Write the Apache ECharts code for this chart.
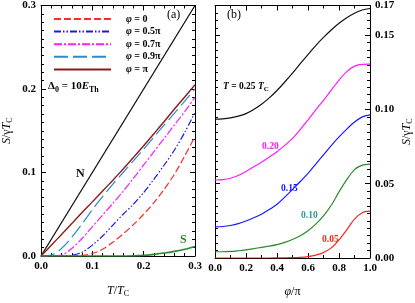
<!DOCTYPE html>
<html><head><meta charset="utf-8">
<script src="https://cdn.jsdelivr.net/npm/echarts@6/dist/echarts.min.js"></script>
<style>html,body{margin:0;padding:0;background:#fff}#c{width:415px;height:303px}</style>
</head><body><div id="c"></div>
<script>
// ---- Panel (a) data: S/γT_C vs T/T_C ----
const tGrid = [0,0.02,0.04,0.06,0.08,0.10,0.12,0.14,0.16,0.18,0.20,0.22,0.24,0.26,0.28,0.30];
const aPhi0  = [0,0,0,0,0.0008,0.003,0.008,0.0165,0.0265,0.0375,0.050,0.064,0.080,0.098,0.120,0.143];
const aPhi05 = [0,0,0,0.0007,0.0045,0.013,0.024,0.037,0.050,0.062,0.076,0.092,0.109,0.127,0.148,0.172];
const aPhi07 = [0,0,0.001,0.009,0.021,0.035,0.049,0.063,0.0775,0.093,0.109,0.125,0.141,0.157,0.173,0.190];
const aPhi09 = [0,0.001,0.009,0.0225,0.0385,0.0555,0.071,0.086,0.100,0.114,0.128,0.1425,0.157,0.171,0.1855,0.200];
const aPhiPi = [0,0.0128,0.0258,0.0388,0.052,0.0648,0.0778,0.0908,0.1042,0.118,0.132,0.1465,0.161,0.176,0.1905,0.205];
const aS     = [0,0,0,0,0,0,0,0,0,0.0002,0.0008,0.002,0.0035,0.0055,0.008,0.0115];
const nT = [0,0.3];
const nS = [0,0.3];
// ---- Panel (b) data: S/γT_C vs φ/π ----
const phiGrid = [0,0.05,0.1,0.15,0.2,0.25,0.3,0.35,0.4,0.45,0.5,0.55,0.6,0.65,0.7,0.75,0.8,0.85,0.9,0.95,1.0];
const b25 = [0.0935,0.0937,0.0943,0.0955,0.0972,0.100,0.1035,0.1078,0.1128,0.1185,0.1245,0.1308,0.1370,0.1430,0.1485,0.1535,0.1580,0.1618,0.1648,0.1670,0.1680];
const b20 = [0.0525,0.0528,0.0537,0.0555,0.0582,0.0614,0.0645,0.0680,0.0716,0.0758,0.0805,0.0865,0.0930,0.0997,0.1062,0.1130,0.1198,0.1255,0.1292,0.1304,0.1305];
const b15 = [0.0210,0.0212,0.0219,0.0231,0.0249,0.0271,0.0295,0.0326,0.0362,0.0410,0.0462,0.0515,0.0570,0.0632,0.0695,0.0757,0.0815,0.0868,0.0915,0.0950,0.0964];
const b10 = [0.0042,0.0042,0.0044,0.0049,0.0055,0.0063,0.0072,0.0080,0.0090,0.0105,0.0125,0.0150,0.0183,0.0228,0.0284,0.0355,0.0445,0.0528,0.0595,0.0625,0.0632];
const b05 = [0,0,0,0,0,0,0,0,0.0001,0.0001,0.0002,0.0004,0.0009,0.0019,0.0037,0.0068,0.0122,0.0190,0.0262,0.0305,0.0315];
// tick labels
const aXTicks = ['0.0','0.1','0.2','0.3'];
const aYTicks = ['0.0','0.1','0.2','0.3'];
const bXTicks = ['0.0','0.2','0.4','0.6','0.8','1.0'];
const bYTicks = ['0.00','0.05','0.10','0.15'];

const zip = (xs, ys) => xs.map((x,i)=>[x, ys[i]]);
const SERIF = '"Liberation Serif","DejaVu Serif",serif';
function mkAxis(pos, grid, min, max, interval, split, labels, fmt, extra){
  return Object.assign({
    type:'value', gridIndex:grid, position:pos, min:min, max:max, interval:interval,
    axisLine:{show:true, onZero:false, lineStyle:{color:'#000', width:1}},
    axisTick:{show:true, inside:true, length:5, lineStyle:{color:'#000'}},
    minorTick:{show:true, splitNumber:split, length:3, lineStyle:{color:'#000'}},
    splitLine:{show:false},
    axisLabel:{show:labels, margin:5, color:'#000', fontFamily:SERIF, fontWeight:'bold', fontSize:11,
      formatter: v => v.toFixed(fmt), showMinLabel:true, showMaxLabel:true}
  }, extra||{});
}
const nameStyle = {color:'#000', fontFamily:SERIF, fontSize:12,
  rich:{i:{fontStyle:'italic',fontFamily:SERIF,fontSize:12}, s:{fontSize:8,fontFamily:SERIF,padding:[6,0,0,0]}}};
const chart = echarts.init(document.getElementById('c'), null, {renderer:'canvas'});
const legendNames = {'p0':'{i|φ} = 0','p05':'{i|φ} = 0.5π','p07':'{i|φ} = 0.7π','p09':'{i|φ} = 0.9π','ppi':'{i|φ} = π'};
function line(name, data, color, dash, xi, yi, width){
  return {name:name, type:'line', xAxisIndex:xi, yAxisIndex:yi, data:data, symbol:'none', showSymbol:false,
    smooth:0.3, clip:true, animation:false, silent:true,
    lineStyle:{color:color, width:width||1.2, type:dash||'solid', cap:'butt'}, itemStyle:{color:color}};
}
const option = {
  animation:false,
  backgroundColor:'#fff',
  grid:[
    {left:40, top:4, width:155, height:254},
    {left:215, top:4, width:157, height:254}
  ],
  xAxis:[
    mkAxis('bottom',0,0,0.3,0.1,5,true,1,{name:'{i|T}/{i|T}{s|C}', nameLocation:'middle', nameGap:28, nameTextStyle:nameStyle}),
    mkAxis('top',0,0,0.3,0.1,5,false,1),
    mkAxis('bottom',1,0,1,0.2,2,true,1,{name:'{i|φ}/π', nameLocation:'middle', nameGap:28, nameTextStyle:nameStyle}),
    mkAxis('top',1,0,1,0.2,2,false,1)
  ],
  yAxis:[
    mkAxis('left',0,0,0.3,0.1,10,true,1,{name:'{i|S}/γ{i|T}{s|C}', nameLocation:'middle', nameGap:27, nameRotate:90, nameTextStyle:nameStyle}),
    mkAxis('right',0,0,0.3,0.1,10,false,1),
    mkAxis('right',1,0,0.17,0.05,10,true,2,{name:'{i|S}/γ{i|T}{s|C}', nameLocation:'middle', nameGap:30, nameRotate:90, nameTextStyle:nameStyle}),
    mkAxis('left',1,0,0.17,0.05,10,false,2)
  ],
  legend:{
    data:['p0','p05','p07','p09','ppi'], orient:'vertical', left:48, top:9,
    itemWidth:57, itemHeight:11, itemGap:2.6, selectedMode:false,
    itemStyle:{opacity:0},
    formatter: n => legendNames[n],
    textStyle:{color:'#000', fontFamily:SERIF, fontWeight:'bold', fontSize:10, padding:[0,0,0,10],
      rich:{i:{fontStyle:'italic', fontFamily:SERIF, fontWeight:'bold', fontSize:10}}}
  },
  series:[
    line('N', zip(nT,nS), '#111', 'solid', 0, 0, 1.3),
    line('p0', zip(tGrid,aPhi0), '#ff2a2a', [7,3], 0, 0),
    line('p05', zip(tGrid,aPhi05), '#1a1ae6', [7,2,1.5,2,1.5,2], 0, 0),
    line('p07', zip(tGrid,aPhi07), '#ff1aff', [8,2,2,2], 0, 0),
    line('p09', zip(tGrid,aPhi09), '#2e8bc9', [14,5], 0, 0),
    line('ppi', zip(tGrid,aPhiPi), '#8b1a1a', 'solid', 0, 0, 1.4),
    line('S', zip(tGrid,aS), '#2a8a2a', 'solid', 0, 0, 1.6),
    line('b25', zip(phiGrid,b25), '#111', 'solid', 2, 2),
    line('b20', zip(phiGrid,b20), '#ff1aff', 'solid', 2, 2),
    line('b15', zip(phiGrid,b15), '#1a1aff', 'solid', 2, 2),
    line('b10', zip(phiGrid,b10), '#2a8a2a', 'solid', 2, 2),
    line('b05', zip(phiGrid,b05), '#ff2020', 'solid', 2, 2)
  ],
  graphic:[
    {type:'text', left:48, top:81, style:{text:'Δ{s|0} = 10{i|E}{s|Th}', fill:'#000', font:'bold 11px '+SERIF,
      rich:{i:{fontStyle:'italic', fontWeight:'bold', fontFamily:SERIF, fontSize:11}, s:{fontSize:8, fontWeight:'bold', fontFamily:SERIF, padding:[6,0,0,0]}}}},
    {type:'text', left:167, top:9, style:{text:'(a)', fill:'#000', font:'12px '+SERIF}},
    {type:'text', left:227, top:9, style:{text:'(b)', fill:'#000', font:'12px '+SERIF}},
    {type:'text', left:76, top:168, style:{text:'N', fill:'#111', font:'bold 12px '+SERIF}},
    {type:'text', left:180, top:234, style:{text:'S', fill:'#2a8a2a', font:'bold 12px '+SERIF}},
    {type:'text', left:223, top:82, style:{text:'{i|T} = 0.25 {i|T}{s|C}', fill:'#000', font:'bold 9.5px '+SERIF,
      rich:{i:{fontStyle:'italic', fontWeight:'bold', fontFamily:SERIF, fontSize:9.5}, s:{fontSize:7, fontWeight:'bold', fontFamily:SERIF, padding:[5,0,0,0]}}}},
    {type:'text', left:262, top:142, style:{text:'0.20', fill:'#ff1aff', font:'bold 9.5px '+SERIF}},
    {type:'text', left:281, top:184, style:{text:'0.15', fill:'#1a1aff', font:'bold 9.5px '+SERIF}},
    {type:'text', left:301, top:211, style:{text:'0.10', fill:'#2a9a9a', font:'bold 9.5px '+SERIF}},
    {type:'text', left:322, top:235, style:{text:'0.05', fill:'#ff2020', font:'bold 9.5px '+SERIF}}
  ]
};
chart.setOption(option);
</script></body></html>
